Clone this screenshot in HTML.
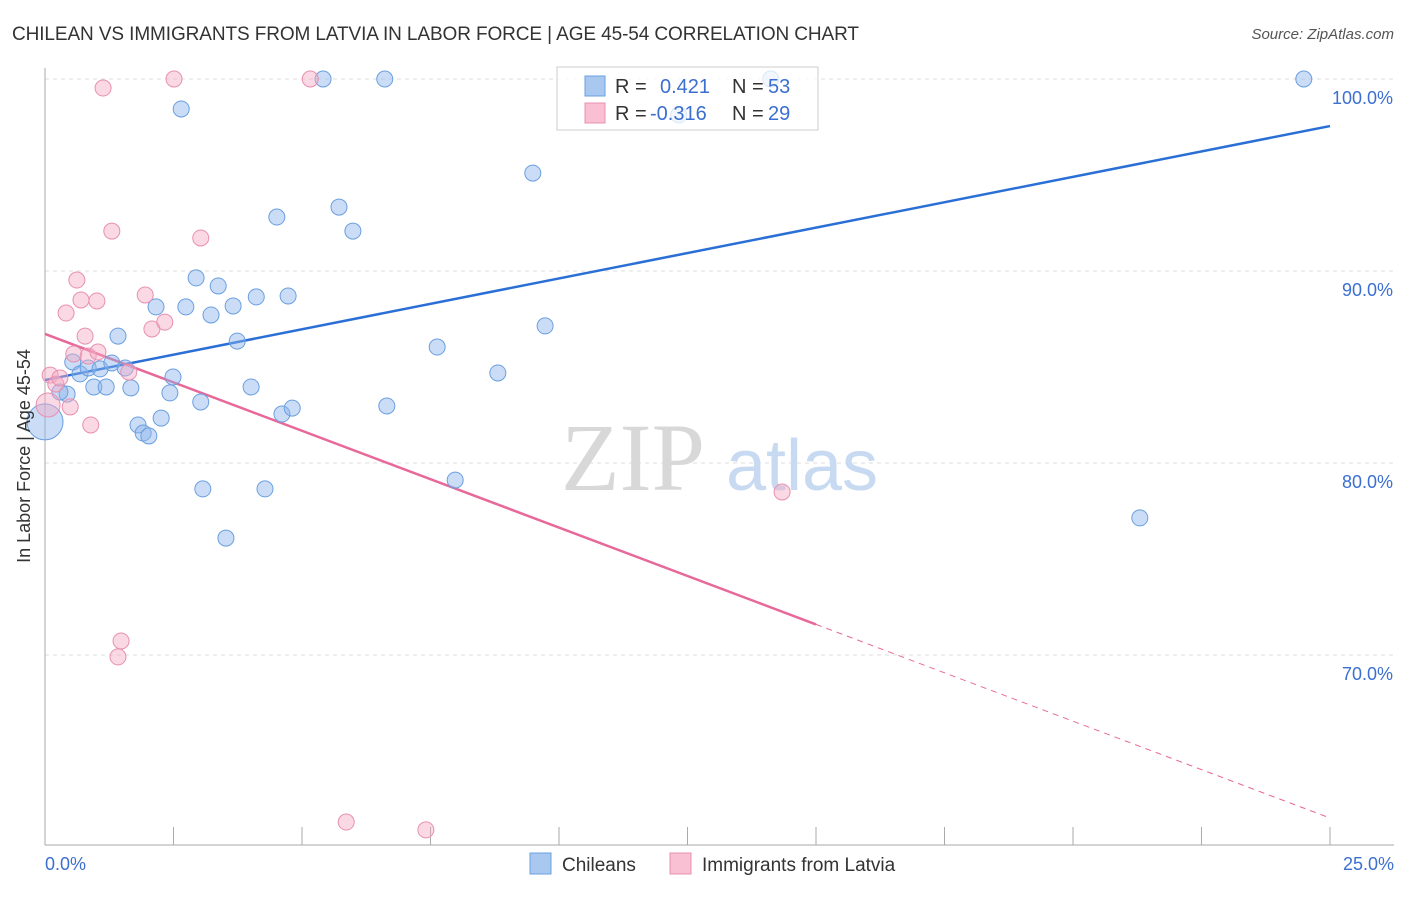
<!DOCTYPE html>
<html><head><meta charset="utf-8"><style>
body{margin:0;background:#fff;font-family:"Liberation Sans",sans-serif;}
svg text{font-family:"Liberation Sans",sans-serif;}
</style></head><body>
<svg id="chart" width="1406" height="892" viewBox="0 0 1406 892">
<text x="12" y="40" font-size="19" fill="#333" textLength="847">CHILEAN VS IMMIGRANTS FROM LATVIA IN LABOR FORCE | AGE 45-54 CORRELATION CHART</text>
<text x="1394" y="39" font-size="15" fill="#555" text-anchor="end" font-style="italic">Source: ZipAtlas.com</text>
<g id="grid"></g>
<g>
<text x="633" y="490" font-size="96" fill="#d8d8d8" text-anchor="middle" font-family="Liberation Serif, serif" style="font-family:'Liberation Serif',serif">ZIP</text>
<text x="802" y="490" font-size="72" fill="#c8daf2" text-anchor="middle">atlas</text>
</g>
<g id="axes"></g>
<g id="lines"></g>
<g id="points"></g>
<text x="30" y="456" font-size="18" fill="#333" text-anchor="middle" transform="rotate(-90 30 456)">In Labor Force | Age 45-54</text>
<text x="45" y="870" font-size="18" fill="#3b6fd0">0.0%</text>
<text x="1394" y="870" font-size="18" fill="#3b6fd0" text-anchor="end">25.0%</text>
<g>
<rect x="557" y="67" width="261" height="63" fill="rgba(255,255,255,0.75)" stroke="#ccc"/>
<rect x="585" y="76" width="20" height="20" fill="#a8c8f0" stroke="#6a9fe0"/>
<text x="615" y="93" font-size="20" fill="#333">R =</text><text x="660" y="93" font-size="20" fill="#3b6fd0">0.421</text>
<text x="732" y="93" font-size="20" fill="#333">N =</text><text x="768" y="93" font-size="20" fill="#3b6fd0">53</text>
<rect x="585" y="103" width="20" height="20" fill="#f8c0d2" stroke="#e890b0"/>
<text x="615" y="120" font-size="20" fill="#333">R =</text><text x="650" y="120" font-size="20" fill="#3b6fd0">-0.316</text>
<text x="732" y="120" font-size="20" fill="#333">N =</text><text x="768" y="120" font-size="20" fill="#3b6fd0">29</text>
</g>
<g><rect x="530" y="853" width="21" height="21" fill="#a8c8f0" stroke="#6a9fe0"/><text x="562" y="871" font-size="19" fill="#333">Chileans</text></g>
<g><rect x="670" y="853" width="21" height="21" fill="#f8c0d2" stroke="#e890b0"/><text x="702" y="871" font-size="19" fill="#333">Immigrants from Latvia</text></g>
</svg>
<script>
const yTicks=[100,90,80,70];
const yTickLabels=["100.0%","90.0%","80.0%","70.0%"];
const xTicks=[0,2.5,5,7.5,10,12.5,15,17.5,20,22.5,25];
const blueX=[0,0.43,0.29,0.54,0.68,0.84,0.95,1.07,1.19,1.30,1.42,1.56,1.67,1.81,1.91,2.02,2.16,2.26,2.43,2.49,2.65,2.74,2.94,3.03,3.07,3.23,3.37,3.52,3.66,3.74,4.01,4.11,4.28,4.51,4.61,4.73,4.81,5.41,5.72,5.99,6.61,6.65,7.63,7.98,8.81,9.49,9.73,12.33,14.12,21.30,24.49];
const blueY=[82.14,83.59,83.70,85.26,84.64,84.95,83.96,84.90,83.96,85.21,86.61,84.95,83.91,81.98,81.56,81.41,88.13,82.34,83.65,84.48,98.44,88.13,89.64,83.18,78.65,87.71,89.22,76.09,88.18,86.35,83.96,88.65,78.65,92.81,82.55,88.70,82.86,100,93.33,92.08,100,82.97,86.04,79.11,84.69,95.10,87.14,98.13,100,77.14,100];
const pinkX=[0.06,0.10,0.21,0.29,0.41,0.49,0.56,0.62,0.70,0.78,0.84,0.89,1.01,1.03,1.13,1.30,1.42,1.48,1.63,1.95,2.08,2.33,2.51,3.03,5.16,5.86,7.41,14.34];
const pinkY=[83.02,84.58,84.11,84.43,87.81,82.92,85.68,89.53,88.49,86.61,85.57,81.98,88.44,85.78,99.53,92.08,69.90,70.73,84.74,88.75,86.98,87.34,100,91.72,100,61.30,60.89,78.49];
const blueTrend=[84.32,97.55];
const pinkTrend=[86.72,61.51];
const NS="http://www.w3.org/2000/svg";
const X=v=>45+v/25*1285, Y=v=>79+(100-v)*19.2;
function mk(t,a,p){const e=document.createElementNS(NS,t);for(const k in a)e.setAttribute(k,a[k]);p.appendChild(e);return e;}
const grid=document.getElementById('grid'),axes=document.getElementById('axes');
yTicks.forEach((t,i)=>{
 const l=mk('line',{x1:45,x2:1394,y1:Y(t),y2:Y(t),stroke:'#ddd','stroke-dasharray':'4,4'},grid);
 
 
 const tx=mk('text',{x:1393,y:Y(t)+25,'font-size':18,fill:'#3b6fd0','text-anchor':'end'},axes);
 tx.textContent=yTickLabels[i];
 
 
});
const ax=mk('line',{x1:45,x2:1394,y1:845,y2:845,stroke:'#aaa'},axes);


const ay=mk('line',{x1:45,x2:45,y1:68,y2:845,stroke:'#aaa'},axes);


xTicks.forEach(t=>{
 const l=mk('line',{x1:X(t),x2:X(t),y1:827,y2:845,stroke:'#aaa'},axes);
 
 
});
const lines=document.getElementById('lines');
const bl=mk('line',{x1:X(0),y1:Y(blueTrend[0]),x2:X(25),y2:Y(blueTrend[1]),stroke:'#2a6fd6','stroke-width':2.5},lines);


const pm=pinkTrend[0]+(pinkTrend[1]-pinkTrend[0])*15/25;
const pl=mk('line',{x1:X(0),y1:Y(pinkTrend[0]),x2:X(15),y2:Y(pm),stroke:'#e8689a','stroke-width':2.5},lines);


const pd=mk('line',{x1:X(15),y1:Y(pm),x2:X(25),y2:Y(pinkTrend[1]),stroke:'#e8689a','stroke-width':1,'stroke-dasharray':'6,5'},lines);


const pts=document.getElementById('points');
blueX.forEach((x,i)=>{
 const c=mk('circle',{cx:X(x),cy:Y(blueY[i]),r:i===0?18:8,fill:'rgba(140,180,235,0.45)',stroke:'#6a9fe0','stroke-width':1},pts);
 
 
});
pinkX.forEach((x,i)=>{
 const c=mk('circle',{cx:X(x),cy:Y(pinkY[i]),r:i===0?12:8,fill:'rgba(244,170,196,0.45)',stroke:'#e890b0','stroke-width':1},pts);
 
 
});
</script>
</body></html>
